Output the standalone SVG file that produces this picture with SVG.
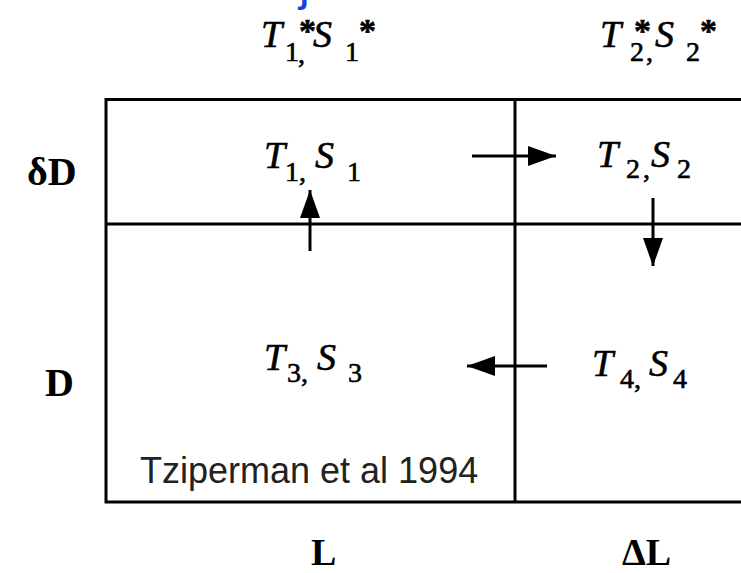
<svg xmlns="http://www.w3.org/2000/svg" width="741" height="573" viewBox="0 0 741 573">
<style>
  .frame { fill: none; stroke: #000; stroke-width: 3; }
  .conn { stroke: #000; stroke-width: 3; fill: none; marker-end: url(#ah); }
  .lbl { font-family: "Liberation Serif", "Times New Roman", serif; fill: #000; stroke: #000; stroke-width: 0.6; }
  .it { font-style: italic; font-size: 38px; }
  .sub { font-style: normal; font-size: 28px; }
  .ast { font-style: normal; font-weight: bold; font-size: 34px; }
  .axis { font-family: "Liberation Serif", "Times New Roman", serif; font-weight: bold; fill: #000; }
  .credit { font-family: "Liberation Sans", Arial, sans-serif; font-size: 36px; fill: #222; }
</style>
<defs>
  <marker id="ah" viewBox="0 0 28 20" refX="28" refY="10" markerWidth="28" markerHeight="20" markerUnits="userSpaceOnUse" orient="auto">
    <path d="M0,0 L28,10 L0,20 Z" fill="#000"/>
  </marker>
</defs>
<rect width="741" height="573" fill="#fff"/>

<text x="299" y="0" font-family="Liberation Sans, Arial, sans-serif" font-size="48" fill="#1a3cf0">j</text>

<g id="grid">
  <path class="frame" d="M744,99.5 H106 V502 H744"/>
  <path class="frame" d="M106,224 H744"/>
  <path class="frame" d="M515,99.5 V502"/>
</g>

<g id="top-labels">
  <g id="label-T1S1-star">
    <text class="lbl" y="47"><tspan class="it" x="261">T</tspan><tspan class="sub" x="285" y="61">1</tspan><tspan class="ast" x="299" y="42">*</tspan><tspan class="sub" x="298" y="63">,</tspan><tspan class="it" x="313" y="47">S</tspan><tspan class="sub" x="345" y="61">1</tspan><tspan class="ast" x="359" y="42">*</tspan></text>
  </g>
  <g id="label-T2S2-star">
    <text class="lbl" y="47"><tspan class="it" x="600">T</tspan><tspan class="sub" x="630" y="61">2</tspan><tspan class="ast" x="634" y="42">*</tspan><tspan class="sub" x="646" y="61">,</tspan><tspan class="it" x="655" y="47">S</tspan><tspan class="sub" x="686" y="61">2</tspan><tspan class="ast" x="700" y="42">*</tspan></text>
  </g>
</g>

<g id="axis-labels">
  <text class="axis" x="27" y="185" font-size="40">δD</text>
  <text class="axis" x="45" y="396" font-size="40">D</text>
  <text class="axis" x="311" y="565" font-size="38">L</text>
  <text class="axis" x="622" y="565" font-size="38">ΔL</text>
</g>

<g id="box1">
  <text class="lbl" y="168"><tspan class="it" x="264">T</tspan><tspan class="sub" x="285" y="181">1,</tspan><tspan class="it" x="315" y="168">S</tspan><tspan class="sub" x="347" y="181">1</tspan></text>
</g>
<g id="box2">
  <text class="lbl" y="167"><tspan class="it" x="597">T</tspan><tspan class="sub" x="626" y="178">2</tspan><tspan class="sub" x="643" y="178">,</tspan><tspan class="it" x="651" y="167">S</tspan><tspan class="sub" x="677" y="178">2</tspan></text>
</g>
<g id="box3">
  <text class="lbl" y="370"><tspan class="it" x="264">T</tspan><tspan class="sub" x="287" y="382">3,</tspan><tspan class="it" x="317" y="370">S</tspan><tspan class="sub" x="348" y="382">3</tspan></text>
</g>
<g id="box4">
  <text class="lbl" y="376"><tspan class="it" x="592">T</tspan><tspan class="sub" x="620" y="388">4,</tspan><tspan class="it" x="649" y="376">S</tspan><tspan class="sub" x="673" y="388">4</tspan></text>
</g>

<g id="connectors">
  <line class="conn" x1="310" y1="251" x2="310" y2="190"/>
  <line class="conn" x1="472" y1="156" x2="556" y2="156"/>
  <line class="conn" x1="653" y1="198" x2="653" y2="266"/>
  <line class="conn" x1="547" y1="366" x2="467" y2="366"/>
</g>

<text class="credit" x="140" y="483">Tziperman et al 1994</text>
</svg>
